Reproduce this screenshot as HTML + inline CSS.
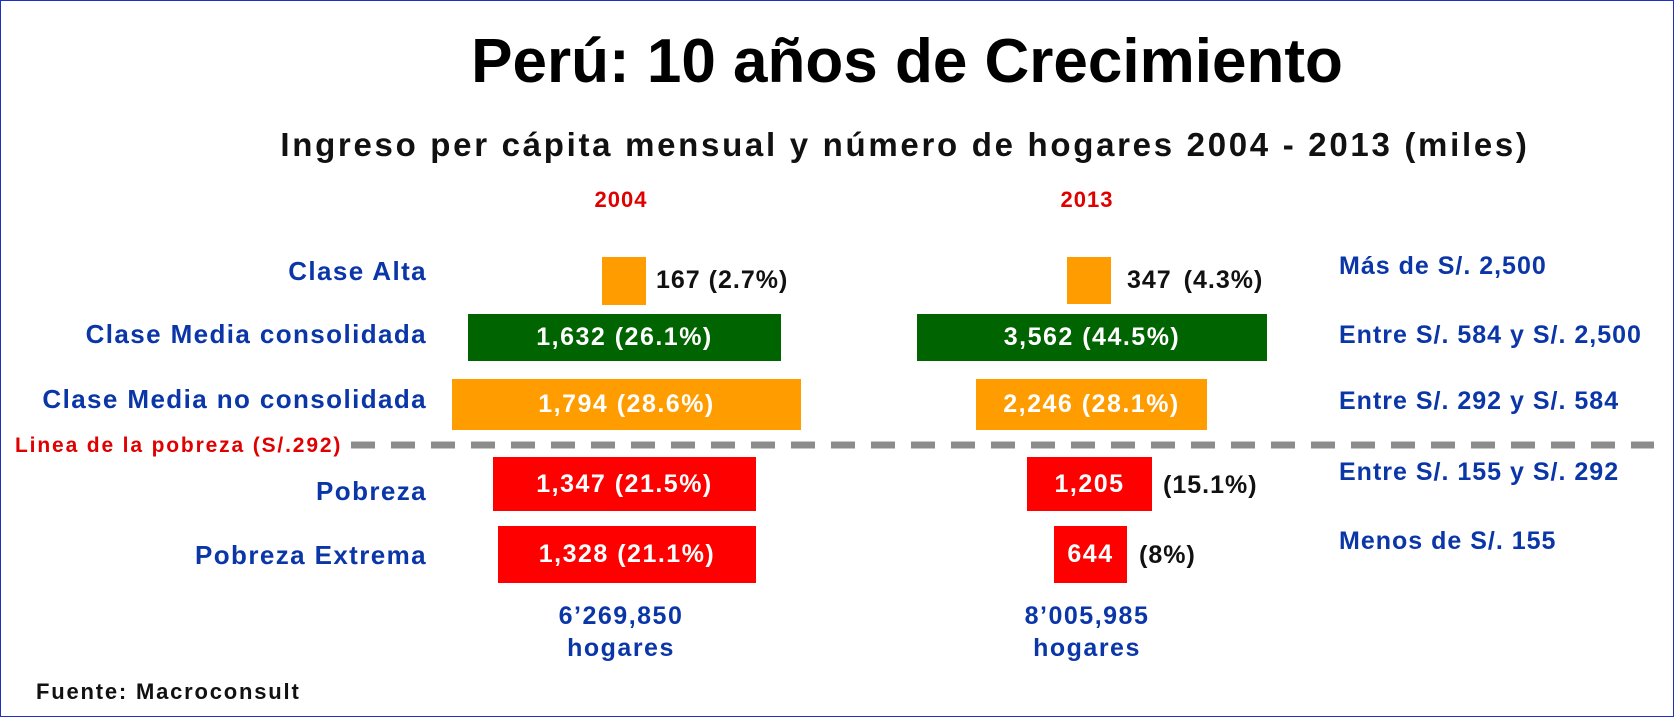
<!DOCTYPE html>
<html><head><meta charset="utf-8"><style>
body{margin:0;background:#fff}
#c{position:relative;width:1672px;height:715px;border:1px solid #2030c0;overflow:hidden;font-family:"Liberation Sans",sans-serif;font-weight:bold}
.t{position:absolute;white-space:nowrap;line-height:1}
.b{position:absolute;display:flex;align-items:center;justify-content:center;color:#fff;font-size:25px;letter-spacing:1.5px}
.l{color:#0a36a8;font-size:26px;text-align:right;width:426px;left:0;letter-spacing:1.4px}
.r{color:#0a36a8;font-size:25px;left:1338px;letter-spacing:1.0px}
.k{color:#111;font-size:25px;letter-spacing:1px}
.c{text-align:center;width:300px;color:#0a36a8;font-size:25px;letter-spacing:1.5px}
</style></head><body><div id="c">
<div class="t" style="left:0;width:1672px;text-align:center;top:30px;font-size:62px;color:#000;padding-left:140px;box-sizing:border-box;letter-spacing:0px">Perú: 10 años de Crecimiento</div>
<div class="t" style="left:0;width:1672px;text-align:center;top:127px;font-size:33px;color:#111;padding-left:136px;box-sizing:border-box;letter-spacing:2.7px">Ingreso per cápita mensual y número de hogares 2004 - 2013 (miles)</div>
<div class="t" style="left:585px;width:70px;text-align:center;top:188px;font-size:22px;color:#e00000;letter-spacing:1px">2004</div>
<div class="t" style="left:1051px;width:70px;text-align:center;top:188px;font-size:22px;color:#e00000;letter-spacing:1px">2013</div>

<div class="t l" style="top:257px">Clase Alta</div>
<div class="t l" style="top:320px">Clase Media consolidada</div>
<div class="t l" style="top:385px">Clase Media no consolidada</div>
<div class="t l" style="top:477px">Pobreza</div>
<div class="t l" style="top:541px">Pobreza Extrema</div>
<div class="t" style="left:14px;top:434px;font-size:21px;color:#e00000;letter-spacing:1.85px">Linea de la pobreza (S/.292)</div>
<svg style="position:absolute;left:0;top:0" width="1672" height="715"><line x1="350" y1="444" x2="1653" y2="444" stroke="#8c8c8c" stroke-width="7" stroke-dasharray="24 16"/></svg>

<div class="b" style="left:601px;top:256px;width:44px;height:48px;background:#ff9c00"></div>
<div class="t k" style="left:655px;top:267px">167 (2.7%)</div>
<div class="b" style="left:467px;top:313px;width:313px;height:47px;background:#006400">1,632 (26.1%)</div>
<div class="b" style="left:451px;top:378px;width:349px;height:51px;background:#ff9c00">1,794 (28.6%)</div>
<div class="b" style="left:492px;top:456px;width:263px;height:54px;background:#ff0000">1,347 (21.5%)</div>
<div class="b" style="left:497px;top:525px;width:258px;height:57px;background:#ff0000">1,328 (21.1%)</div>

<div class="b" style="left:1066px;top:256px;width:44px;height:47px;background:#ff9c00"></div>
<div class="t k" style="left:1126px;top:267px;word-spacing:4px">347 (4.3%)</div>
<div class="b" style="left:916px;top:313px;width:350px;height:47px;background:#006400">3,562 (44.5%)</div>
<div class="b" style="left:975px;top:378px;width:231px;height:51px;background:#ff9c00">2,246 (28.1%)</div>
<div class="b" style="left:1026px;top:456px;width:125px;height:54px;background:#ff0000">1,205</div>
<div class="t k" style="left:1162px;top:472px">(15.1%)</div>
<div class="b" style="left:1053px;top:525px;width:73px;height:57px;background:#ff0000">644</div>
<div class="t k" style="left:1138px;top:542px">(8%)</div>

<div class="t r" style="top:253px">Más de S/. 2,500</div>
<div class="t r" style="top:322px">Entre S/. 584 y S/. 2,500</div>
<div class="t r" style="top:388px">Entre S/. 292 y S/. 584</div>
<div class="t r" style="top:459px">Entre S/. 155 y S/. 292</div>
<div class="t r" style="top:528px">Menos de S/. 155</div>

<div class="t c" style="left:470px;top:603px">6’269,850</div>
<div class="t c" style="left:470px;top:635px">hogares</div>
<div class="t c" style="left:936px;top:603px">8’005,985</div>
<div class="t c" style="left:936px;top:635px">hogares</div>
<div class="t" style="left:35px;top:680px;font-size:22px;color:#111;letter-spacing:1.8px">Fuente: Macroconsult</div>
</div></body></html>
